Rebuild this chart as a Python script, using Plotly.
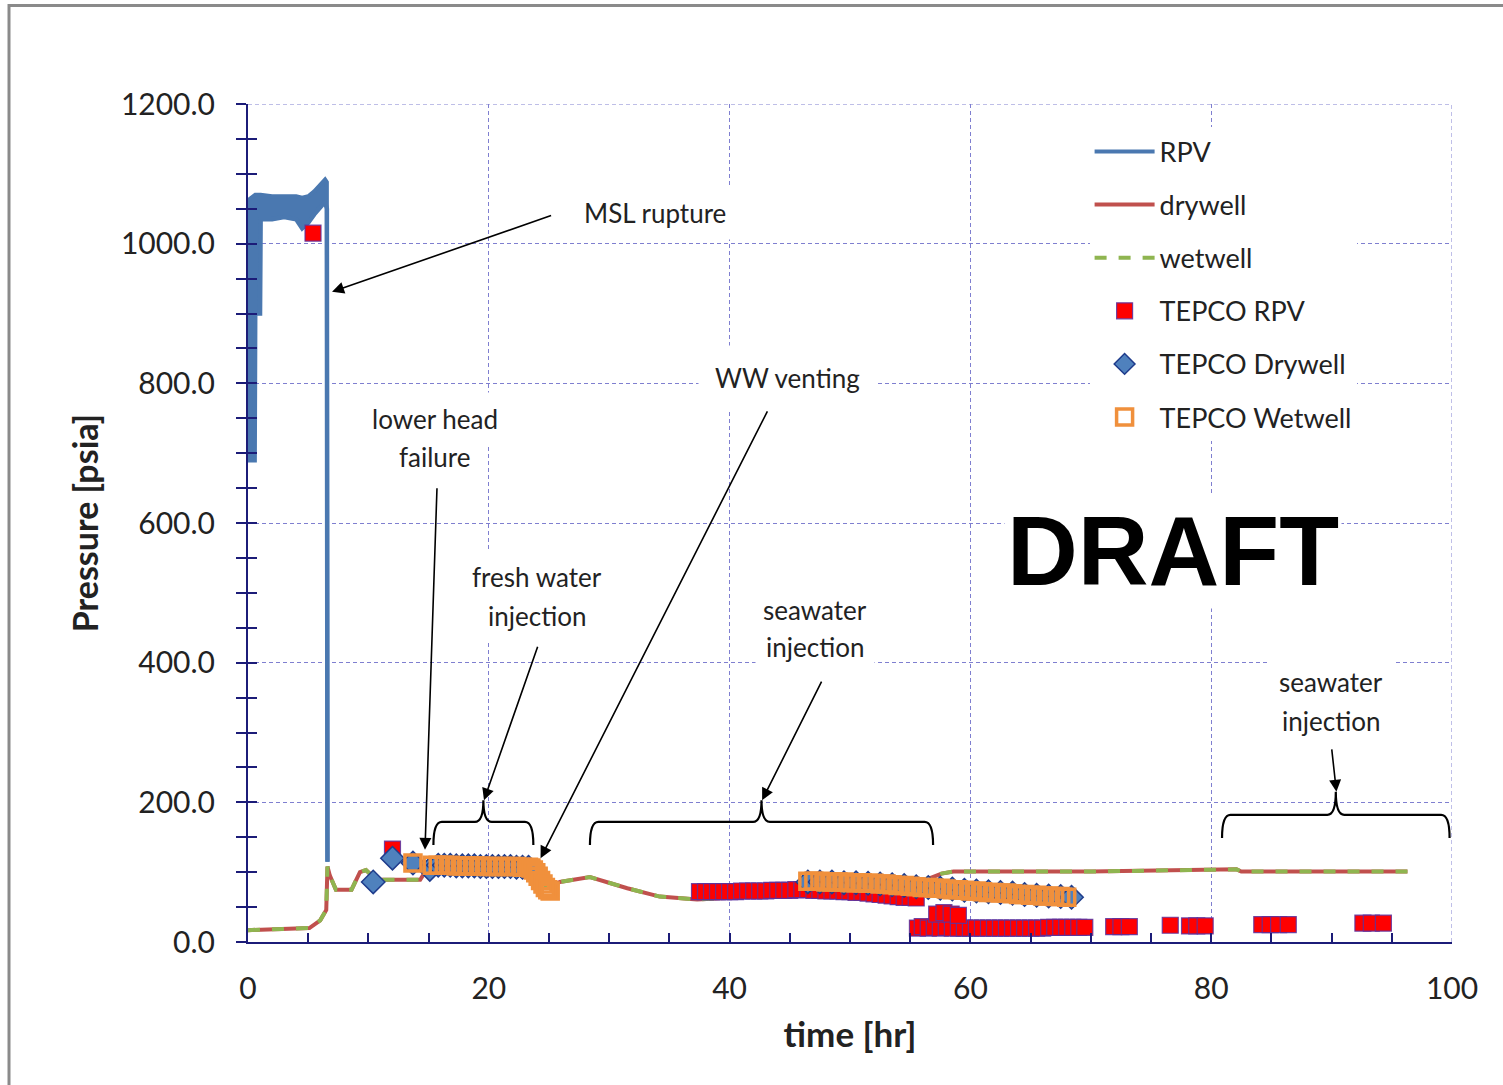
import plotly.graph_objects as go

# ---------------- data ----------------
# RPV pressure (noisy band drawn as upper / lower envelope)
rpv_t = [0.0, 0.55, 0.6, 1.0, 1.05, 2.0, 3.0, 4.0, 4.5, 5.0, 5.5, 6.0, 6.4, 6.55, 6.6]
rpv_hi = [1062, 1070, 1070, 1070, 1070, 1068, 1068, 1068, 1066, 1068, 1075, 1085, 1092, 1088, 115]
rpv_lo = [690, 690, 900, 900, 1035, 1035, 1038, 1035, 1022, 1030, 1042, 1052, 1060, 1050, 115]

# drywell / wetwell simulated pressure
dw_t = [0, 3.0, 5.1, 6.0, 6.5, 6.6, 6.8, 7.3, 8.6, 9.3, 9.8, 10.4, 11.0, 14.3, 14.7, 16.0, 20.0,
        23.0, 24.0, 25.0, 25.9, 28.4, 31.5, 34.2, 37.3, 42.0, 46.0, 50.0, 54.0, 56.6, 57.6, 58.6,
        70.0, 82.1, 82.5, 96.3]
dw_p = [17, 18, 20, 31, 46, 108, 95, 75, 75, 100, 103, 93, 89, 89, 100, 108, 108,
        105, 90, 78, 86, 93, 77, 65, 61, 65, 72, 78, 85, 91, 98, 101,
        101, 104, 101, 101]
ww_t = list(dw_t)
ww_p = [17, 18, 20, 31, 46, 108, 95, 75, 75, 100, 103, 93, 89, 89, 100, 108, 108,
        105, 90, 78, 86, 93, 77, 65, 61, 65, 72, 78, 85, 91, 98, 101,
        101, 104, 101, 101]

# TEPCO RPV measurements
tr_early_t = [5.4, 12.0]
tr_early_p = [1015, 133]
tr_mid_t = [37.5, 38.0, 38.5, 39.0, 39.5, 40.0, 40.5, 41.0, 41.5, 42.0, 42.5, 43.0, 43.5, 44.0,
            44.5, 45.0, 45.5, 46.0, 46.5, 47.0, 47.5, 48.0, 48.5, 49.0, 49.5, 50.0, 50.5, 51.0,
            51.5, 52.0, 52.5, 53.0, 53.5, 54.0, 54.5, 55.0, 55.5]
tr_mid_p = [72, 72, 72, 72, 72, 72, 72, 73, 73, 73, 73, 73, 74, 74,
            74, 74, 75, 75, 75, 74, 74, 73, 73, 73, 72, 72, 71, 71,
            70, 69, 68, 67, 66, 65, 64, 64, 63]
tr_low_t = [55.6, 56.0, 56.5, 57.0, 57.5, 58.0, 58.5, 59.0, 59.5, 60.0, 60.5, 61.0, 61.5, 62.0,
            62.5, 63.0, 63.5, 64.0, 64.5, 65.0, 65.5, 66.0, 66.5, 67.0, 67.5, 68.0, 68.5, 69.0,
            69.5, 57.2, 57.8, 58.4, 59.0]
tr_low_p = [20, 22, 20, 21, 20, 21, 20, 20, 20, 20, 20, 20, 20, 20,
            20, 20, 20, 20, 20, 20, 20, 20, 21, 21, 21, 21, 21, 21,
            21, 40, 42, 40, 38]
tr_late_t = [71.9, 72.5, 73.2, 76.6, 78.2, 78.8, 79.5, 84.2, 84.9, 85.6, 86.4, 92.6, 93.3, 94.3]
tr_late_p = [22, 22, 22, 24, 23, 23, 23, 25, 25, 25, 25, 27, 27, 27]

# TEPCO drywell measurements
td_t = [10.4, 12.0, 13.7, 15.1,
        15.8, 16.3, 16.8, 17.3, 17.8, 18.3, 18.8, 19.3, 19.8, 20.3, 20.8, 21.3, 21.8, 22.3, 22.8, 23.3,
        46.5, 47.5, 48.5, 49.5, 50.5, 51.5, 52.5, 53.5, 54.5, 55.5, 56.5, 57.5, 58.5, 59.5, 60.5,
        61.5, 62.5, 63.5, 64.5, 65.5, 66.5, 67.5, 68.4]
td_p = [86, 120, 113, 104,
        110, 110, 110, 109, 109, 109, 109, 108, 108, 108, 108, 108, 108, 107, 107, 107,
        86, 86, 86, 85, 85, 84, 83, 82, 81, 79, 78, 77, 76, 74, 73,
        72, 71, 70, 68, 67, 66, 65, 64]

# TEPCO wetwell measurements
tw_t = [13.7, 15.3, 15.8, 16.3, 16.8, 17.3, 17.8, 18.3, 18.8, 19.3, 19.8, 20.3, 20.8, 21.3, 21.8,
        22.3, 22.8, 23.3, 23.5, 23.7, 23.9, 24.1, 24.3, 24.5, 24.7, 24.9, 25.1,
        46.5, 47.0, 47.5, 48.0, 48.5, 49.0, 49.5, 50.0, 50.5, 51.0, 51.5, 52.0, 52.5, 53.0, 53.5,
        54.0, 54.5, 55.0, 55.5, 56.0, 56.5, 57.0, 57.5, 58.0, 58.5, 59.0, 59.5, 60.0, 60.5, 61.0,
        61.5, 62.0, 62.5, 63.0, 63.5, 64.0, 64.5, 65.0, 65.5, 66.0, 66.5, 67.0, 67.5, 68.0]
tw_p = [113, 110, 110, 110, 110, 109, 109, 109, 109, 109, 108, 108, 108, 108, 108,
        108, 107, 107, 106, 103, 99, 94, 88, 83, 78, 75, 73,
        87, 87, 87, 86, 86, 86, 86, 85, 85, 85, 84, 84, 83, 83, 82,
        81, 81, 80, 79, 78, 78, 77, 77, 76, 75, 75, 74, 73, 73, 72,
        71, 71, 70, 70, 69, 68, 68, 67, 67, 66, 66, 65, 65, 64]

x_ticks = [0, 20, 40, 60, 80, 100]
y_ticks = [0, 200, 400, 600, 800, 1000, 1200]
x_range = [0, 100]
y_range = [0, 1200]

# ---------------- figure ----------------
FONT = "Lato, 'Liberation Sans', sans-serif"
AXC = "#1c1c78"
GRIDC = "#7f7fd0"
GRIDDASH = "4px,3px"

fig = go.Figure()

fig.add_trace(go.Scatter(x=rpv_t, y=rpv_hi, mode="lines", name="RPV",
                         line=dict(color="#4a78b0", width=4), legendgroup="a"))
fig.add_trace(go.Scatter(x=rpv_t, y=rpv_lo, mode="lines", name="RPV", showlegend=False,
                         fill="tonexty", fillcolor="#4a78b0",
                         line=dict(color="#4a78b0", width=4.5), legendgroup="a"))
fig.add_trace(go.Scatter(x=dw_t, y=dw_p, mode="lines", name="drywell",
                         line=dict(color="#c0504d", width=4), legendgroup="b"))
fig.add_trace(go.Scatter(x=ww_t, y=ww_p, mode="lines", name="wetwell",
                         line=dict(color="#8fb550", width=4, dash="dash"), legendgroup="c"))
fig.add_trace(go.Scatter(x=tr_early_t + tr_mid_t + tr_low_t + tr_late_t,
                         y=tr_early_p + tr_mid_p + tr_low_p + tr_late_p,
                         mode="markers", name="TEPCO RPV", legendgroup="d",
                         marker=dict(symbol="square", size=16, color="#ff0000",
                                     line=dict(color="rgba(90,50,160,0.85)", width=1.2))))
fig.add_trace(go.Scatter(x=td_t, y=td_p, mode="markers", name="TEPCO Drywell", legendgroup="e",
                         marker=dict(symbol="diamond", size=18, color="#4f81bd",
                                     line=dict(color="#1f3c8c", width=1.5))))
fig.add_trace(go.Scatter(x=tw_t, y=tw_p, mode="markers", name="TEPCO Wetwell", legendgroup="f",
                         marker=dict(symbol="square-open", size=16, color="#f0903c",
                                     line=dict(width=3.5))))

# helper y axis for the inward half of the crossing y ticks
fig.add_trace(go.Scatter(x=[None], y=[None], yaxis="y2", showlegend=False, hoverinfo="skip"))

# ---------------- annotations ----------------
txt_font = dict(family=FONT, size=26, color="#222222")
labels = [
    ("MSL rupture", 33.8, 1044, 10),
    ("lower head", 15.5, 749, 10),
    ("failure", 15.5, 695, 10),
    ("fresh water", 24.0, 523, 10),
    ("injection", 24.0, 467, 10),
    ("WW venting", 44.85, 808, 16),
    ("seawater", 47.1, 476, 10),
    ("injection", 47.1, 422, 10),
    ("seawater", 89.95, 372, 10),
    ("injection", 89.95, 317, 10),
]
for text, x, y, pad in labels:
    fig.add_annotation(x=x, y=y, text=text, showarrow=False, font=txt_font,
                       bgcolor="white", borderpad=pad, align="center")

fig.add_annotation(x=76.8, y=560, text="<b>DRAFT</b>", showarrow=False,
                   font=dict(family="'Liberation Sans', Arial, sans-serif", size=98, color="black"),
                   bgcolor="white", borderpad=2)

arrows = [
    (25.3, 1041, 6.98, 931),
    (15.7, 652, 14.7, 132),
    (24.1, 425, 19.6, 203),
    (43.2, 762, 24.3, 120),
    (47.7, 375, 42.7, 203),
    (90.0, 278, 90.4, 215),
]
for ax_, ay_, x, y in arrows:
    fig.add_annotation(x=x, y=y, ax=ax_, ay=ay_, xref="x", yref="y", axref="x", ayref="y",
                       text="", showarrow=True, arrowhead=2, arrowsize=1.5, arrowwidth=1.6,
                       arrowcolor="black", standoff=0)


def brace_path(x0, x1, y_end, y_top, y_tip, d):
    xm = (x0 + x1) / 2
    return (f"M {x0},{y_end} Q {x0},{y_top} {x0 + d},{y_top} L {xm - d},{y_top} "
            f"Q {xm},{y_top} {xm},{y_tip} Q {xm},{y_top} {xm + d},{y_top} "
            f"L {x1 - d},{y_top} Q {x1},{y_top} {x1},{y_end}")


braces = [
    (15.4, 23.7, 139, 172, 203),
    (28.4, 56.9, 139, 172, 203),
    (80.9, 99.8, 149, 182, 215),
]
for b in braces:
    fig.add_shape(type="path", xref="x", yref="y", path=brace_path(*b, 0.7),
                  line=dict(color="black", width=2.2))

# dashed grid lines on the upper and right edges of the plot area
fig.add_shape(type="line", xref="x", yref="y", x0=x_range[1], x1=x_range[1],
              y0=y_range[0], y1=y_range[1], line=dict(color=GRIDC, width=1, dash=GRIDDASH),
              layer="below")
fig.add_shape(type="line", xref="x", yref="y", x0=x_range[0], x1=x_range[1],
              y0=y_range[1], y1=y_range[1], line=dict(color=GRIDC, width=1, dash=GRIDDASH),
              layer="below")

# outer chart border
fig.add_shape(type="rect", xref="paper", yref="paper",
              x0=-0.1985, x1=1.06, y0=-0.19, y1=1.1175,
              line=dict(color="#8a8a8a", width=3), layer="below")

fig.update_layout(
    width=1503, height=1085,
    margin=dict(l=248, r=51, t=104, b=143),
    paper_bgcolor="white", plot_bgcolor="white",
    font=dict(family=FONT, size=30, color="#222222"),
    showlegend=True,
    legend=dict(x=0.699, y=0.972, xanchor="left", yanchor="top", bgcolor="white",
                font=dict(family=FONT, size=27, color="#222222"),
                tracegroupgap=15, itemwidth=60, borderwidth=0),
    xaxis=dict(range=x_range, tickmode="array", tickvals=x_ticks,
               ticktext=[str(v) for v in x_ticks],
               showline=True, linecolor=AXC, linewidth=2,
               ticks="inside", ticklen=9, tickwidth=2, tickcolor=AXC,
               minor=dict(dtick=5, ticks="inside", ticklen=9, tickwidth=2, tickcolor=AXC,
                          showgrid=False),
               showgrid=True, gridcolor=GRIDC, griddash=GRIDDASH, gridwidth=1,
               zeroline=False, ticklabelstandoff=19,
               title=dict(text="<b>time [hr]</b>", font=dict(size=35), standoff=18)),
    yaxis=dict(range=y_range, tickmode="array", tickvals=y_ticks,
               ticktext=[f"{v:.1f}" for v in y_ticks],
               showline=True, linecolor=AXC, linewidth=2,
               ticks="outside", ticklen=10, tickwidth=2, tickcolor=AXC,
               minor=dict(dtick=50, ticks="outside", ticklen=10, tickwidth=2, tickcolor=AXC,
                          showgrid=False),
               showgrid=True, gridcolor=GRIDC, griddash=GRIDDASH, gridwidth=1,
               zeroline=False, ticklabelstandoff=15,
               title=dict(text="<b>Pressure [psia]</b>", font=dict(size=34), standoff=12)),
    yaxis2=dict(range=y_range, overlaying="y", side="left", anchor="x",
                tickmode="linear", tick0=0, dtick=50, ticks="inside", ticklen=9,
                tickwidth=2, tickcolor=AXC, showticklabels=False, showgrid=False,
                showline=False, zeroline=False),
)

fig.write_html("out.html", config={"displayModeBar": False},
               post_script="document.body.style.margin='0px';")
